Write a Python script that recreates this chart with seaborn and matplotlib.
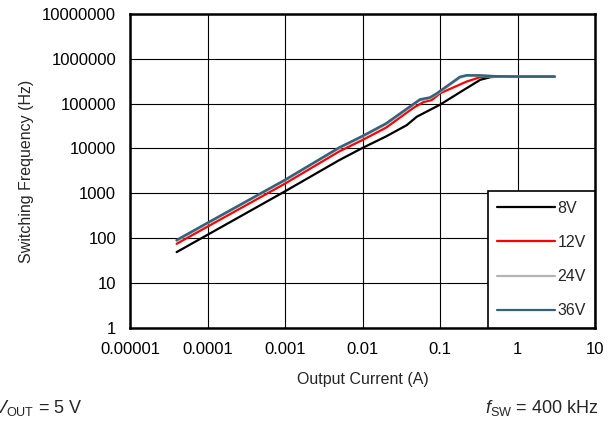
import numpy as np
import pandas as pd
import matplotlib
matplotlib.use("Agg")
import matplotlib.pyplot as plt
import seaborn as sns

# ------------------------------------------------------------
# Data (switching frequency vs load)
# ------------------------------------------------------------
current_8v = [4e-5, 1e-4, 1e-3, 0.005, 0.01, 0.02, 0.037, 0.05, 0.1, 0.2, 0.33, 0.45, 0.6, 1.0, 3.0]
freq_8v = [49, 119, 1110, 5500, 10300, 18500, 33000, 51000, 95000, 200000, 340000, 390000, 400000, 400000, 400000]

current_12v = [4e-5, 1e-4, 1e-3, 0.005, 0.01, 0.02, 0.045, 0.061, 0.078, 0.1, 0.22, 0.33, 0.5, 1.0, 3.0]
freq_12v = [75, 181, 1650, 8600, 15500, 29000, 80000, 108000, 120000, 170000, 310000, 390000, 400000, 400000, 400000]

current_24v = [4e-5, 1e-4, 1e-3, 0.005, 0.01, 0.02, 0.055, 0.074, 0.091, 0.18, 0.22, 0.33, 0.5, 1.0, 3.0]
freq_24v = [87, 212, 1930, 10100, 18300, 34500, 119000, 132000, 163000, 380000, 415000, 418000, 405000, 400000, 400000]

current_36v = [4e-5, 1e-4, 1e-3, 0.005, 0.01, 0.02, 0.055, 0.074, 0.091, 0.18, 0.22, 0.33, 0.5, 1.0, 3.0]
freq_36v = [91, 220, 2000, 10500, 19000, 36000, 124000, 137000, 170000, 395000, 428000, 425000, 408000, 400000, 400000]

series_labels = ["8V", "12V", "24V", "36V"]
series_colors = ["#000000", "#ff0000", "#b4b4b4", "#33637c"]
series_widths = [1.6, 1.6, 1.8, 1.8]

x_ticks = [1e-5, 1e-4, 1e-3, 1e-2, 1e-1, 1, 10]
x_tick_labels = ["0.00001", "0.0001", "0.001", "0.01", "0.1", "1", "10"]
y_ticks = [1, 10, 100, 1000, 10000, 100000, 1000000, 10000000]
y_tick_labels = ["1", "10", "100", "1000", "10000", "100000", "1000000", "10000000"]

# build long-form table for seaborn
frames = []
for lab, xs, ys in zip(series_labels,
                       [current_8v, current_12v, current_24v, current_36v],
                       [freq_8v, freq_12v, freq_24v, freq_36v]):
    frames.append(pd.DataFrame({"current": xs, "freq": ys, "vin": lab}))
df = pd.concat(frames, ignore_index=True)

sns.set_style("white")
plt.rcParams["font.family"] = ["Liberation Sans", "DejaVu Sans"]
plt.rcParams["mathtext.fontset"] = "custom"
plt.rcParams["mathtext.rm"] = "Liberation Sans"
plt.rcParams["mathtext.it"] = "Liberation Sans:italic"

fig = plt.figure(figsize=(6.13, 4.48), dpi=100)
ax = fig.add_axes([0.212, 0.268, 0.759, 0.701])

sns.lineplot(data=df, x="current", y="freq", hue="vin",
             hue_order=series_labels, palette=series_colors,
             linewidth=1.6, sort=False, ax=ax, legend=False)
for line, lw in zip(ax.get_lines(), series_widths):
    line.set_linewidth(lw)

ax.set_xscale("log")
ax.set_yscale("log")
ax.set_xlim(1e-5, 10)
ax.set_ylim(1, 1e7)
ax.set_xticks(x_ticks)
ax.set_xticklabels(x_tick_labels)
ax.set_yticks(y_ticks)
ax.set_yticklabels(y_tick_labels)
ax.minorticks_off()
ax.tick_params(length=0, labelsize=12, colors="black", pad=10)
ax.grid(True, which="major", color="black", linewidth=0.8)

for s in ax.spines.values():
    s.set_color("black")
    s.set_linewidth(1.8)

ax.set_xlabel("Output Current (A)", fontsize=11.5, labelpad=11)
ax.set_ylabel("Switching Frequency (Hz)", fontsize=11.5, labelpad=6)

handles = [plt.Line2D([0], [0], color=c, linewidth=1.6) for c in series_colors]
leg = ax.legend(handles, series_labels, loc="lower right", fontsize=11.5,
                handlelength=3.6, handletextpad=0.15, labelspacing=1.2,
                borderpad=0.6, fancybox=False, framealpha=1,
                borderaxespad=0.0)
leg.get_frame().set_edgecolor("black")
leg.get_frame().set_linewidth(1.2)

fig.text(0.134, 0.078, r"$V_{\mathrm{OUT}}$ = 5 V", fontsize=13,
         va="baseline", ha="right")
fig.text(0.9755, 0.078, r"$f_{\mathrm{SW}}$ = 400 kHz", fontsize=13,
         va="baseline", ha="right")

fig.savefig("out.png", dpi=100)
